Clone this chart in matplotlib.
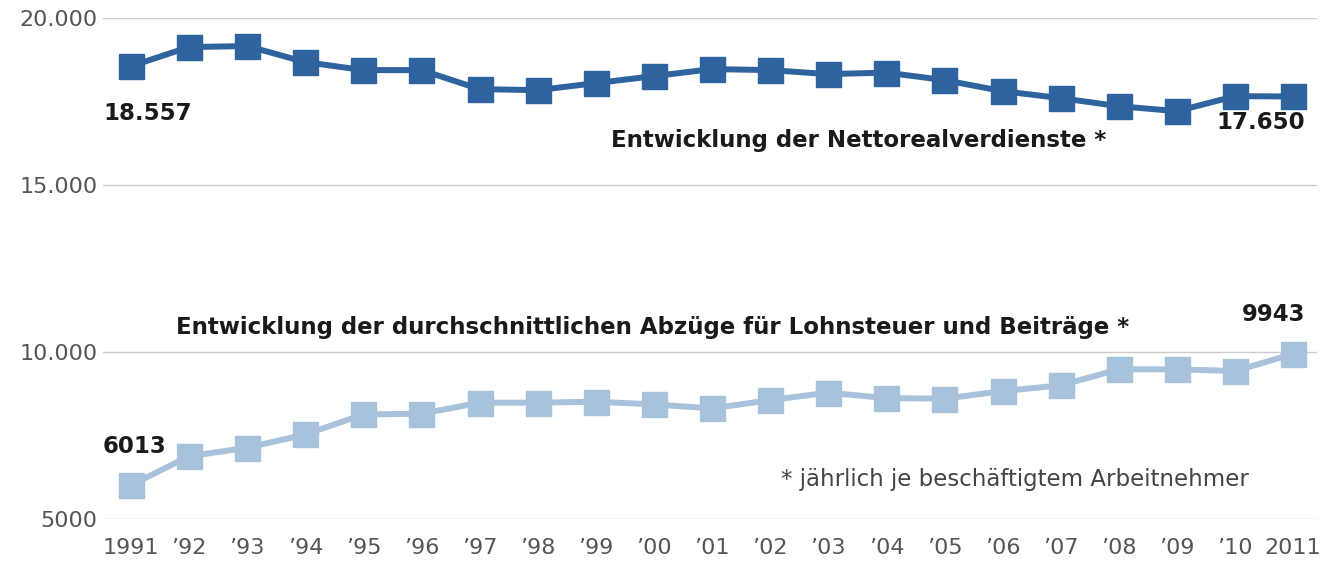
import matplotlib
matplotlib.use("Agg")
import matplotlib.pyplot as plt

years = list(range(1991, 2012))
year_labels = ["1991", "’92", "’93", "’94", "’95", "’96", "’97", "’98", "’99", "’00",
               "’01", "’02", "’03", "’04", "’05", "’06", "’07", "’08", "’09", "’10", "2011"]
netto = [18557, 19130, 19160, 18680, 18440, 18440, 17870, 17840, 18050, 18260,
         18470, 18440, 18320, 18365, 18140, 17810, 17600, 17360, 17210, 17660, 17650]
abzuege = [6013, 6880, 7132, 7531, 8131, 8152, 8482, 8482, 8512, 8431,
           8311, 8560, 8782, 8620, 8602, 8830, 9001, 9481, 9481, 9431, 9943]
y_ticks = [5000, 10000, 15000, 20000]
y_tick_labels = ["5000", "10.000", "15.000", "20.000"]

plt.rcParams['font.family'] = ['DejaVu Sans']

fig = plt.figure(figsize=(13.3, 5.62), dpi=100)
ax = fig.add_axes([103/1330, 43/562, 1214/1330, 501/562])
ax.set_xlim(1990.52, 2011.41)
ax.set_ylim(5000, 20000)

dark = "#2e63a0"
light = "#a9c2dc"
ax.plot(years, netto, color=dark, lw=4.3, marker="s", ms=18, mec=dark, mfc=dark,
        clip_on=False, zorder=3)
ax.plot(years, abzuege, color=light, lw=4.3, marker="s", ms=18, mec=light, mfc=light,
        clip_on=False, zorder=3)

ax.set_yticks(y_ticks)
ax.set_yticklabels(y_tick_labels)
ax.set_xticks(years)
ax.set_xticklabels(year_labels)
ax.tick_params(axis="both", length=0, labelsize=16, colors="#555555")
ax.tick_params(axis="y", pad=4)
ax.tick_params(axis="x", pad=14)
for s in ax.spines.values():
    s.set_visible(False)
ax.yaxis.grid(True, color="#cccccc", lw=1)
ax.set_axisbelow(True)

bold = dict(fontsize=16.5, fontweight="bold", color="#1a1a1a")
ax.text(1990.52, 17150, "18.557", ha="left", va="center", **bold)
ax.text(2011.21, 16880, "17.650", ha="right", va="center", **bold)
ax.text(2003.53, 16340, "Entwicklung der Nettorealverdienste *", ha="center", va="center", **bold)
ax.text(1999.97, 10740, "Entwicklung der durchschnittlichen Abzüge für Lohnsteuer und Beiträge *",
        ha="center", va="center", **bold)
ax.text(2011.21, 11130, "9943", ha="right", va="center", **bold)
ax.text(1990.52, 7170, "6013", ha="left", va="center", **bold)
ax.text(2006.22, 6180, "* jährlich je beschäftigtem Arbeitnehmer", ha="center", va="center",
        fontsize=16.5, color="#444444")

fig.savefig("out.png", dpi=100, facecolor="white")
